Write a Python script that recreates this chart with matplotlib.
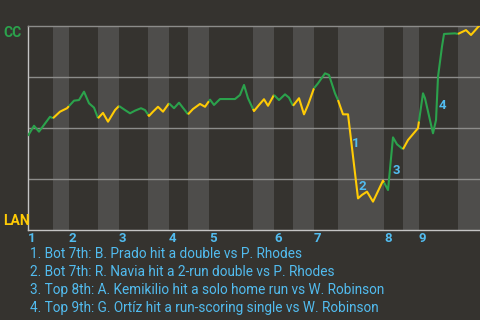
import numpy as np
import matplotlib
matplotlib.use("Agg")
import matplotlib.pyplot as plt

# ---- data ----
progress = [0, 1.33, 2.43, 4.87, 5.53, 7.08, 8.63, 10.18, 11.28, 12.39, 13.50, 14.60,
            15.49, 16.59, 17.70, 19.25, 20.13, 21.46, 22.57, 23.67, 25.00, 25.88, 26.77,
            27.65, 28.76, 29.87, 31.19, 32.30, 33.41, 35.40, 36.50, 38.05, 39.16, 40.27,
            41.15, 42.48, 45.80, 46.90, 47.79, 48.67, 50.00, 51.11, 52.21, 53.10, 54.42,
            55.53, 56.86, 57.74, 58.63, 59.96, 61.06, 61.95, 63.27, 64.16, 65.71, 66.59,
            67.92, 68.58, 69.69, 70.80, 73.01, 73.89, 75.00, 76.33, 78.54, 79.65, 80.75,
            81.64, 82.96, 84.07, 86.28, 87.39, 87.83, 89.60, 90.27, 90.71, 91.59, 92.04,
            94.47, 95.13, 96.90, 98.01, 99.78]
cc_win_pct = [46.2, 51.1, 48.2, 55.5, 54.8, 58.0, 59.7, 63.4, 63.7, 67.8, 62.1, 60.0,
              54.8, 57.4, 53.1, 58.8, 60.8, 58.8, 57.2, 58.5, 59.7, 58.8, 55.9,
              58.0, 60.4, 58.0, 62.1, 59.7, 62.4, 56.7, 59.3, 61.8, 60.4, 63.9,
              61.3, 64.2, 64.2, 66.2, 71.1, 64.6, 58.3, 61.3, 64.1, 60.9, 66.2,
              63.7, 66.5, 64.9, 60.9, 64.6, 56.7, 61.3, 69.5, 71.9, 76.8, 76.0,
              67.0, 63.7, 56.7, 56.7, 15.5, 17.2, 18.8, 13.9, 24.2, 19.6, 45.4,
              42.0, 39.6, 44.1, 49.9, 67.0, 64.6, 47.4, 53.9, 75.1, 89.9, 96.1,
              96.4, 96.1, 98.0, 95.6, 100.0]
half_inning_edges = [0, 5.53, 9.07, 15.49, 20.13, 26.55, 31.19, 35.40, 40.04, 49.78,
                     54.42, 58.63, 63.27, 68.58, 78.76, 82.96, 86.50, 95.13, 100]
inning_labels = ["1", "2", "3", "4", "5", "6", "7", "8", "9"]
event_ids = ["1", "2", "3", "4"]
event_x = [72.6, 73.9, 81.6, 91.7]
event_y = [42.2, 21.2, 29.1, 60.8]
event_texts = [
    "1. Bot 7th: B. Prado hit a double vs P. Rhodes",
    "2. Bot 7th: R. Navia hit a 2-run double vs P. Rhodes",
    "3. Top 8th: A. Kemikilio hit a solo home run vs W. Robinson",
    "4. Top 9th: G. Ortíz hit a run-scoring single vs W. Robinson",
]
teams = ["CC", "LAN"]

# ---- style ----
BG = "#35332f"
BAND = "#4e4d4b"
GRID = "#8c8c8a"
SPINE = "#c4c4c4"
GREEN = "#2ba24c"
YELLOW = "#ffcb05"
BLUE = "#52bcef"
FONT = "Roboto"

fig = plt.figure(figsize=(4.8, 3.2), dpi=100, facecolor=BG)
ax = fig.add_axes([28 / 480, 90 / 320, 452 / 480, 204 / 320])
ax.set_facecolor(BG)
ax.set_xlim(0, 100)
ax.set_ylim(0, 100)

x = np.array(progress)
y = np.array(cc_win_pct)

for i in range(len(half_inning_edges) - 1):
    a, b = half_inning_edges[i], half_inning_edges[i + 1]
    top = (i % 2 == 0)
    if not top:
        ax.axvspan(a, b, color=BAND, lw=0, zorder=0)
    inside = (x > a) & (x < b)
    xs = np.concatenate([[a], x[inside], [b]])
    ys = np.interp(xs, x, y)
    ax.plot(xs, ys, color=GREEN if top else YELLOW, lw=1.5, zorder=3,
            solid_capstyle="butt")

for gy in [25, 50, 75]:
    ax.axhline(gy, color=GRID, lw=1.0, zorder=1)

ax.spines["right"].set_visible(False)
ax.spines["top"].set_color(GRID)
ax.spines["left"].set_color(SPINE)
ax.spines["bottom"].set_color(SPINE)
for s in ["top", "left", "bottom"]:
    ax.spines[s].set_linewidth(1.0)
ax.set_xticks([])
ax.set_yticks([])

# inning labels
for k, lab in enumerate(inning_labels):
    xi = half_inning_edges[2 * k]
    ax.text(xi, -8 / 204, lab, transform=ax.get_xaxis_transform(),
            ha="left", va="center", color=BLUE, fontsize=9.5, fontweight="bold",
            family=FONT)

for eid, ex, ey in zip(event_ids, event_x, event_y):
    ax.text(ex, ey, eid, ha="center", va="center", color=BLUE, fontsize=9.5,
            fontweight="bold", family=FONT, zorder=4)

fig.text(3 / 480, 1 - 33 / 320, teams[0], ha="left", va="center", color=GREEN,
         fontsize=10, fontweight="bold", family=FONT)
fig.text(3 / 480, 1 - 221 / 320, teams[1], ha="left", va="center", color=YELLOW,
         fontsize=10, fontweight="bold", family=FONT)

for j, t in enumerate(event_texts):
    fig.text(30 / 480, 1 - (254 + 18 * j) / 320, t, ha="left", va="center",
             color=BLUE, fontsize=9.8, family=FONT)

fig.savefig("out.png", dpi=100, facecolor=BG)
